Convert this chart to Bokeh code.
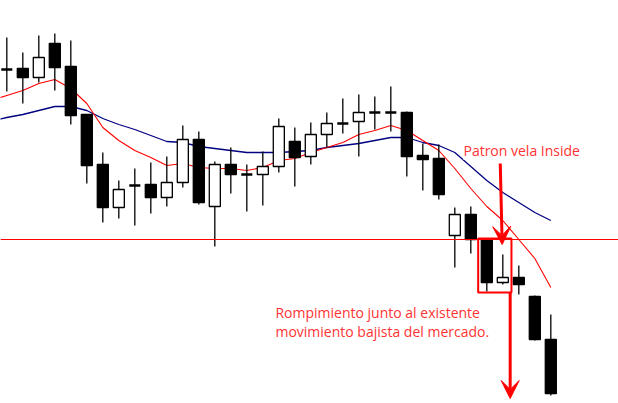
from bokeh.plotting import figure
from bokeh.models import Range1d, Span, Label, Arrow, VeeHead, ColumnDataSource
from bokeh.embed import file_html
from bokeh.resources import INLINE

# ---- data ----
opens  = [1.3334, 1.3335, 1.3326, 1.3360, 1.3337, 1.3289, 1.3239, 1.3196, 1.3218, 1.3219,
          1.3206, 1.3221, 1.3264, 1.3197, 1.3239, 1.3229, 1.3229, 1.3237, 1.3262, 1.3247,
          1.3269, 1.3280, 1.3282, 1.3291, 1.3291, 1.3291, 1.3248, 1.3245, 1.3168, 1.3189,
          1.3164, 1.3121, 1.3126, 1.3107, 1.3064]
highs  = [1.3366, 1.3351, 1.3368, 1.3370, 1.3363, 1.3289, 1.3251, 1.3223, 1.3235, 1.3241,
          1.3247, 1.3278, 1.3272, 1.3242, 1.3256, 1.3239, 1.3252, 1.3285, 1.3276, 1.3281,
          1.3291, 1.3305, 1.3309, 1.3307, 1.3317, 1.3292, 1.3260, 1.3259, 1.3196, 1.3197,
          1.3164, 1.3149, 1.3138, 1.3108, 1.3089]
lows   = [1.3312, 1.3300, 1.3321, 1.3313, 1.3279, 1.3220, 1.3181, 1.3185, 1.3178, 1.3190,
          1.3197, 1.3216, 1.3199, 1.3157, 1.3210, 1.3192, 1.3198, 1.3231, 1.3217, 1.3239,
          1.3256, 1.3270, 1.3247, 1.3274, 1.3272, 1.3227, 1.3213, 1.3204, 1.3136, 1.3150,
          1.3112, 1.3119, 1.3109, 1.3063, 1.3008]
closes = [1.3334, 1.3326, 1.3346, 1.3336, 1.3288, 1.3238, 1.3196, 1.3214, 1.3218, 1.3206,
          1.3221, 1.3264, 1.3201, 1.3239, 1.3229, 1.3229, 1.3237, 1.3277, 1.3246, 1.3269,
          1.3280, 1.3280, 1.3291, 1.3291, 1.3291, 1.3247, 1.3244, 1.3209, 1.3189, 1.3164,
          1.3121, 1.3126, 1.3119, 1.3064, 1.3010]

# moving averages, from the bar before the first visible one
ma_fast = [1.3303, 1.3308, 1.3313, 1.3320, 1.3324, 1.3315, 1.3300, 1.3276, 1.3263, 1.3253,
           1.3246, 1.3238, 1.3240, 1.3236, 1.3235, 1.3235, 1.3233, 1.3236, 1.3243, 1.3245,
           1.3251, 1.3256, 1.3261, 1.3269, 1.3273, 1.3278, 1.3273, 1.3263, 1.3253, 1.3235,
           1.3215, 1.3197, 1.3183, 1.3164, 1.3145, 1.3116]
ma_slow = [1.3282, 1.3286, 1.3289, 1.3293, 1.3297, 1.3297, 1.3293, 1.3285, 1.3279, 1.3274,
           1.3268, 1.3262, 1.3261, 1.3257, 1.3255, 1.3253, 1.3251, 1.3251, 1.3251, 1.3252,
           1.3253, 1.3256, 1.3258, 1.3260, 1.3263, 1.3266, 1.3266, 1.3261, 1.3258, 1.3251,
           1.3237, 1.3223, 1.3211, 1.3201, 1.3191, 1.3183]

level = 1.3164
inside_mother = 30   # index of mother bar of the inside pattern
label_top = "Patron vela Inside"
label_bottom = ["Rompimiento junto al existente", "movimiento bajista del mercado."]

RED = "#ff0000"
TXT = "#ff3333"

n = len(opens)
idx = list(range(n))
ma_idx = list(range(-1, n))
body_w = 0.69

p = figure(width=618, height=403, output_backend="svg", toolbar_location=None,
           x_range=Range1d(-0.394, 38.23), y_range=Range1d(1.3000, 1.3403),
           x_axis_type=None, y_axis_type=None, min_border=0)
p.grid.visible = False
p.outline_line_color = None
p.background_fill_color = "white"
p.border_fill_color = "white"

# moving averages
p.line(ma_idx, ma_slow, line_color="#000080", line_width=1.3)
p.line(ma_idx, ma_fast, line_color=RED, line_width=1.1)

# horizontal level
p.add_layout(Span(location=level, dimension="width", line_color=RED, line_width=1))

# wicks
p.segment(idx, highs, idx, lows, line_color="black", line_width=1.3)

# bodies
src_body = {"x": [], "top": [], "bottom": [], "fill": []}
src_doji = {"x": [], "y": []}
for i in idx:
    o, c = opens[i], closes[i]
    if o == c:
        src_doji["x"].append(i)
        src_doji["y"].append(o)
    else:
        src_body["x"].append(i)
        src_body["top"].append(max(o, c))
        src_body["bottom"].append(min(o, c))
        src_body["fill"].append("black" if c < o else "white")
p.vbar(x="x", top="top", bottom="bottom", width=body_w, fill_color="fill",
       line_color="black", line_width=1.3, source=ColumnDataSource(src_body))
p.rect(x="x", y="y", width=body_w, height=2.5, height_units="screen",
       fill_color="black", line_color=None, source=ColumnDataSource(src_doji))

# inside pattern box (mother bar + inside bar)
m = inside_mother
p.quad(left=[m - 0.54], right=[m + 1 + 0.54],
       top=[max(highs[m], highs[m + 1]) + 0.0001], bottom=[min(lows[m], lows[m + 1]) - 0.0001],
       fill_color=None, line_color=RED, line_width=2)

# arrows
p.add_layout(Arrow(x_start=m + 0.84, y_start=1.3240, x_end=m + 0.96, y_end=1.3159,
                   line_color=RED, line_width=3,
                   end=VeeHead(size=18, fill_color=RED, line_color=RED, line_width=1)))
p.add_layout(Arrow(x_start=m + 1.46, y_start=min(lows[m], lows[m + 1]) - 0.0001,
                   x_end=m + 1.46, y_end=1.3005,
                   line_color=RED, line_width=3,
                   end=VeeHead(size=18, fill_color=RED, line_color=RED, line_width=1)))

# labels
p.add_layout(Label(x=28.54, y=1.3253, text=label_top, text_color=TXT,
                   text_font="Open Sans", text_font_size="14px", text_baseline="middle",
                   background_fill_color="white"))
p.add_layout(Label(x=16.79, y=1.3091, text=label_bottom[0], text_color=TXT,
                   text_font="Open Sans", text_font_size="14px", text_baseline="middle"))
p.add_layout(Label(x=16.79, y=1.3072, text=label_bottom[1], text_color=TXT,
                   text_font="Open Sans", text_font_size="14px", text_baseline="middle"))

open("out.html", "w").write(file_html(p, INLINE))
